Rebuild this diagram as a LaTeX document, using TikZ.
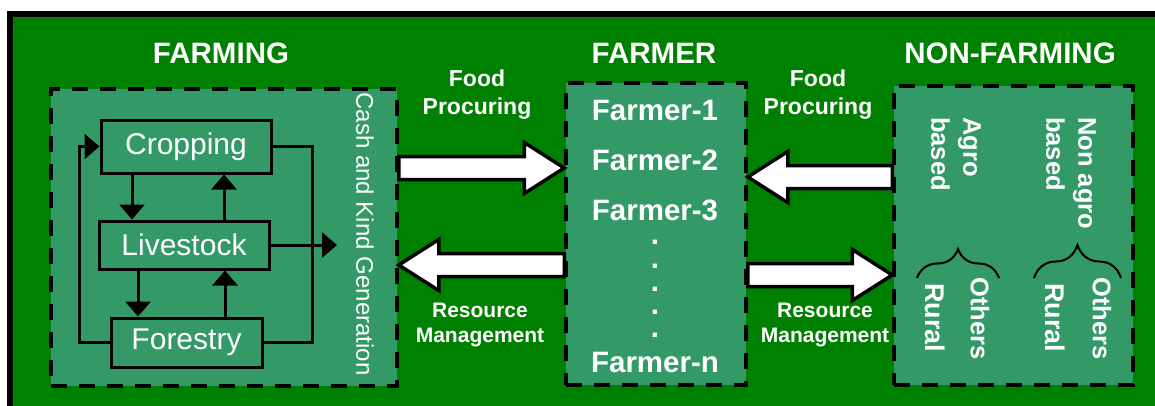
\documentclass[tikz,border=0pt]{standalone}
\usepackage{fontspec}
\setmainfont{Liberation Sans}
\usetikzlibrary{arrows.meta,calc,decorations.pathreplacing}
\definecolor{fieldgreen}{RGB}{0,128,0}
\definecolor{panelgreen}{RGB}{51,153,102}

% wide white block arrow from tail coordinate #1 to tip coordinate #2
\newcommand\blockarrow[2]{%
  \coordinate (ba-base) at ($(#2)!40pt!(#1)$);
  \draw[bigarrow]
    ($(#1)!11.5pt!90:(#2)$) -- ($(ba-base)!11.5pt!90:(#2)$) --
    ($(ba-base)!25.5pt!90:(#2)$) -- (#2) --
    ($(ba-base)!25.5pt!-90:(#2)$) -- ($(ba-base)!11.5pt!-90:(#2)$) --
    ($(#1)!11.5pt!-90:(#2)$) -- cycle;
}

\begin{document}
\begin{tikzpicture}[x=1pt,y=-1pt,
  panel/.style={draw=black, line width=3.5pt, dash pattern=on 16pt off 12pt,
    fill=panelgreen, inner sep=0pt},
  unit/.style={draw=black, line width=3pt, fill=panelgreen, text=white,
    font=\fontsize{30}{36}\selectfont, inner sep=0pt},
  title/.style={text=white, inner sep=0pt, font=\fontsize{29.5}{35}\selectfont\bfseries},
  member/.style={text=white, inner sep=0pt, font=\fontsize{29.5}{35}\selectfont\bfseries},
  flowlabel/.style={text=white, inner sep=0pt, align=center},
  sidetext/.style={text=white, inner sep=0pt, rotate=-90, anchor=west, align=left,
    font=\fontsize{25.5}{32}\selectfont\bfseries},
  flow/.style={line width=3pt, -{Triangle[width=25pt,length=15pt]}},
  link/.style={line width=3pt},
  bigarrow/.style={draw=black, line width=3.5pt, fill=white, line join=miter},
  bracket/.style={line width=2pt, decorate},
]
\useasboundingbox (0,0) rectangle (1155,405);
\fill[white] (0,0) rectangle (1155,405);
\draw[line width=5.5pt, fill=fieldgreen] (10,14) rectangle (1175,425);

% section titles
\node[title] (tfarming) at (221,53) {FARMING};
\node[title] (tfarmer) at (654,53) {FARMER};
\node[title] (tnonfarming) at (1010,53) {NON-FARMING};

% dashed panels
\node[panel, minimum width=346pt, minimum height=297pt] (farming) at (224,237.5) {};
\node[panel, minimum width=180pt, minimum height=302pt] (farmer) at (656,234) {};
\node[panel, minimum width=239pt, minimum height=299pt] (nonfarming) at (1013.5,235.5) {};

% farming units
\node[unit, minimum width=170pt, minimum height=53pt] (cropping) at (186,146.5) {Cropping};
\node[unit, minimum width=170pt, minimum height=48pt] (livestock) at (184,245) {Livestock};
\node[unit, minimum width=151pt, minimum height=49pt] (forestry) at (186.5,342.5) {Forestry};

\draw[flow] (cropping.south -| 132,0) -- (livestock.north -| 132,0);
\draw[flow] (livestock.north -| 224,0) -- (cropping.south -| 224,0);
\draw[flow] (livestock.south -| 138,0) -- (forestry.north -| 138,0);
\draw[flow] (forestry.north -| 225,0) -- (livestock.south -| 225,0);
\draw[flow] (forestry.west) -- (forestry.west -| 79,0) |- (cropping.west);
\draw[link] (cropping.east) -- (cropping.east -| 312,0) |- (forestry.east);
\coordinate (cashout) at (337,245);
\draw[flow] (livestock.east) -- (cashout);

\node[text=white, inner sep=0pt, rotate=-90, font=\fontsize{24}{29}\selectfont]
  (cash) at (365,234) {Cash and Kind Generation};

% farmers
\node[member] (f1) at (655,110) {Farmer-1};
\node[member] (f2) at (655,160) {Farmer-2};
\node[member] (f3) at (655,210) {Farmer-3};
\node[member, anchor=south, align=center, font=\fontsize{29.5}{23.25}\selectfont\bfseries]
  (dots) at (655,338) {.\\.\\.\\.\\.};
\node[member] (fn) at (655,362) {Farmer-n};

% non-farming activities
\node[sidetext] (agro) at (956,117) {Agro\\based};
\node[sidetext] (nonagro) at (1071,117) {Non agro\\based};
\draw[bracket, decoration={brace, amplitude=29pt}] (917,278) -- (999,278);
\draw[bracket, decoration={brace, amplitude=33pt}] (1034,278) -- (1121,278);
\node[sidetext, font=\fontsize{27}{32}\selectfont\bfseries] (rural1) at (935,283) {Rural};
\node[sidetext] (others1) at (980,277) {Others};
\node[sidetext, font=\fontsize{27}{32}\selectfont\bfseries] (rural2) at (1055,283) {Rural};
\node[sidetext] (others2) at (1102,277) {Others};

% exchanges between the sectors
\blockarrow{farming.east |- 0,168}{farmer.west |- 0,168}
\blockarrow{farmer.west |- 0,265}{farming.east |- 0,265}
\blockarrow{nonfarming.west |- 0,177}{farmer.east |- 0,177}
\blockarrow{farmer.east |- 0,275}{nonfarming.west |- 0,275}

\node[flowlabel, font=\fontsize{23}{28}\selectfont\bfseries] (food1) at (477,95) {Food\\Procuring};
\node[flowlabel, font=\fontsize{23}{28}\selectfont\bfseries] (food2) at (818,95) {Food\\Procuring};
\node[flowlabel, font=\fontsize{21}{25}\selectfont\bfseries] (res1) at (480,324.5) {Resource\\Management};
\node[flowlabel, font=\fontsize{21}{25}\selectfont\bfseries] (res2) at (825,324.5) {Resource\\Management};
\end{tikzpicture}
\end{document}
